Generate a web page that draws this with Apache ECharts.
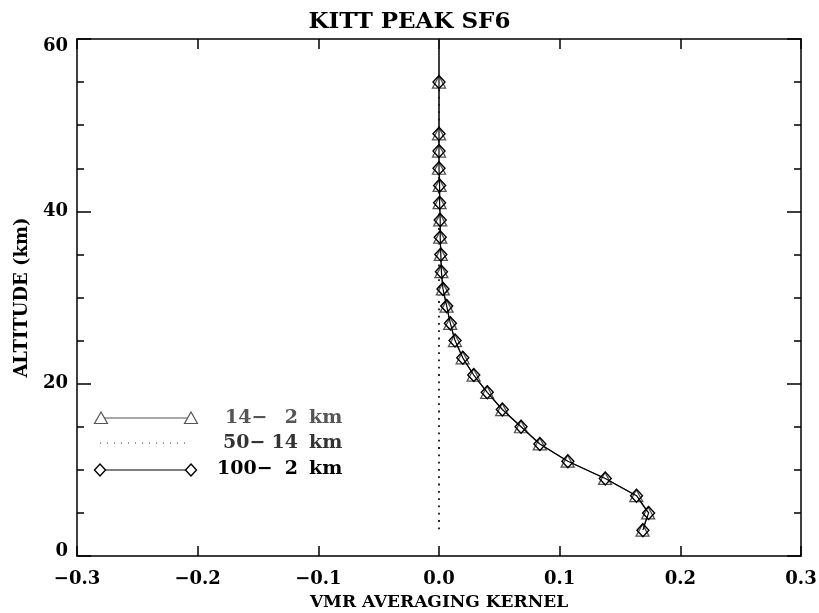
<!DOCTYPE html>
<html>
<head>
<meta charset="utf-8">
<script src="https://cdn.jsdelivr.net/npm/echarts@6/dist/echarts.min.js"></script>
<style>
  html, body { margin: 0; padding: 0; background: #fff; }
  #main { width: 819px; height: 613px; }
</style>
</head>
<body>
<div id="main"></div>
<script>
// altitude levels (km), top level sits above the plot and is clipped
var altitudes = [80, 55, 49, 47, 45, 43, 41, 39, 37, 35, 33, 31, 29, 27, 25, 23, 21, 19, 17, 15, 13, 11, 9, 7, 5, 3];
// 100- 2 km kernel (diamonds)
var kernel100 = [0, 0, 0, 0, 0, 0.0005, 0.0005, 0.001, 0.001, 0.0015, 0.002, 0.0033, 0.0064, 0.0094, 0.0133, 0.0197, 0.0288, 0.040, 0.0525, 0.068, 0.0836, 0.1068, 0.1378, 0.1637, 0.1737, 0.169];
// 14- 2 km kernel (triangles)
var kernel14 = [0, 0, 0, 0, 0, 0.0005, 0.0005, 0.001, 0.001, 0.0015, 0.002, 0.0032, 0.0063, 0.0093, 0.0132, 0.0196, 0.0287, 0.0399, 0.0524, 0.0679, 0.0835, 0.1066, 0.1376, 0.1635, 0.1733, 0.1687];
// 50- 14 km kernel (dotted)
var kernel50 = [0, 0, 0, 0, 0, 0, 0, 0, 0, 0, 0, 0, 0, 0, 0, 0, 0, 0, 0, 0, 0, 0, 0, 0, 0, 0];

var xTicks = [-0.3, -0.2, -0.1, 0.0, 0.1, 0.2, 0.3];
var yTicks = [0, 20, 40, 60];
var legendTop = ['14\u2212', '50\u2212', '100\u2212'];
var legendBottom = ['2', '14', '2'];
var legendNames = ['14-  2 km', '50- 14 km', '100-  2 km'];

function pairs(xs) {
  return xs.map(function (v, i) { return [v, altitudes[i]]; });
}

var FONT = 'DejaVu Serif';
var chart = echarts.init(document.getElementById('main'), null, { renderer: 'canvas' });

function xAxisBase(pos, showLabel) {
  return {
    type: 'value', position: pos, min: -0.3, max: 0.3, interval: 0.1,
    axisLine: { show: true, onZero: false, lineStyle: { color: '#000', width: 1.5 } },
    axisTick: { show: true, inside: true, length: 10, lineStyle: { color: '#000', width: 1.5 } },
    splitLine: { show: false },
    axisLabel: {
      show: showLabel, margin: 14, color: '#000', fontFamily: FONT, fontWeight: 'bold', fontSize: 18,
      formatter: function (v) {
        var t = xTicks.reduce(function (a, b) { return Math.abs(b - v) < Math.abs(a - v) ? b : a; });
        return t.toFixed(1).replace('-', '\u2212');
      }
    }
  };
}
var yLabelStyle = { color: '#000', fontFamily: FONT, fontWeight: 'bold', fontSize: 18 };
function yAxisBase(pos, showLabel) {
  return {
    type: 'value', position: pos, min: 0, max: 60, interval: 20,
    axisLine: { show: true, onZero: false, lineStyle: { color: '#000', width: 1.5 } },
    axisTick: { show: true, inside: true, length: 14, lineStyle: { color: '#000', width: 1.5 } },
    minorTick: { show: true, splitNumber: 4, length: 7, lineStyle: { color: '#000', width: 1.5 } },
    splitLine: { show: false },
    minorSplitLine: { show: false },
    axisLabel: {
      show: showLabel, margin: 9, color: '#000', fontFamily: FONT, fontWeight: 'bold', fontSize: 18,
      formatter: function (v) {
        if (v === yTicks[yTicks.length - 1]) return '{hi|' + v + '}';
        if (v === yTicks[0]) return '{lo|' + v + '}';
        return String(v);
      },
      rich: {
        hi: Object.assign({ padding: [15, 0, 0, 0] }, yLabelStyle),
        lo: Object.assign({ padding: [0, 0, 9, 0] }, yLabelStyle)
      }
    }
  };
}

var xb = xAxisBase('bottom', true);
xb.name = 'VMR AVERAGING KERNEL';
xb.nameLocation = 'middle';
xb.nameGap = 38;
xb.nameTextStyle = { color: '#000', fontFamily: FONT, fontWeight: 'bold', fontSize: 17 };
var xt = xAxisBase('top', false);
var yl = yAxisBase('left', true);
yl.name = 'ALTITUDE (km)';
yl.nameLocation = 'middle';
yl.nameGap = 46;
yl.nameTextStyle = { color: '#000', fontFamily: FONT, fontWeight: 'bold', fontSize: 18 };
var yr = yAxisBase('right', false);

// legend glyphs
function tri(cx, cy, c) {
  return { type: 'polygon', shape: { points: [[cx, cy - 6], [cx - 6.5, cy + 5.5], [cx + 6.5, cy + 5.5]] },
    style: { fill: '#fff', stroke: c, lineWidth: 1.2 }, z: 10 };
}
function dia(cx, cy, c) {
  return { type: 'polygon', shape: { points: [[cx, cy - 6], [cx + 5.5, cy], [cx, cy + 6], [cx - 5.5, cy]] },
    style: { fill: '#fff', stroke: c, lineWidth: 1.4 }, z: 10 };
}
function txt(x, y, s, c, align) {
  return { type: 'text', x: x, y: y, z: 10,
    style: { text: s, fill: c, font: 'bold 19px "' + FONT + '"', textAlign: align || 'left', textVerticalAlign: 'middle' } };
}
function legendRow(i, y, c) {
  var startX = [225, 223, 217];
  return [txt(startX[i], y, legendTop[i], c), txt(298, y, legendBottom[i], c, 'right'), txt(309, y, 'km', c)];
}

chart.setOption({
  animation: false,
  backgroundColor: '#fff',
  title: {
    text: 'KITT PEAK SF6', left: 'center', top: 6,
    textStyle: { color: '#000', fontFamily: FONT, fontWeight: 'bold', fontSize: 23 }
  },
  grid: { left: 77, right: 18, top: 39, bottom: 57, outerBoundsMode: 'none', containLabel: false },
  xAxis: [xb, xt],
  yAxis: [yl, yr],
  graphic: [
    { type: 'line', shape: { x1: 101, y1: 418, x2: 191, y2: 418 }, style: { stroke: '#555', lineWidth: 1.2 }, z: 9 },
    tri(101, 418, '#555'), tri(191, 418, '#555'),
    { type: 'line', shape: { x1: 100, y1: 443, x2: 188, y2: 443 }, style: { stroke: '#333', lineWidth: 1.2, lineDash: [1, 6] }, z: 9 },
    { type: 'line', shape: { x1: 100, y1: 470, x2: 191, y2: 470 }, style: { stroke: '#000', lineWidth: 1.2 }, z: 9 },
    dia(100, 470, '#000'), dia(191, 470, '#000')
  ].concat(legendRow(0, 418, '#555'), legendRow(1, 443, '#333'), legendRow(2, 469, '#000')),
  series: [
    {
      name: legendNames[1], type: 'line', data: pairs(kernel50).slice(1),
      showSymbol: false, symbol: 'none', clip: true,
      lineStyle: { color: '#111', width: 1.8, type: [1.8, 5.5] }, z: 1
    },
    {
      name: legendNames[0], type: 'line', data: pairs(kernel14),
      symbol: 'triangle', symbolSize: [13, 12], clip: true,
      lineStyle: { color: '#555', width: 1.2 },
      itemStyle: { color: '#fff', borderColor: '#555', borderWidth: 1.3 }, z: 2
    },
    {
      name: legendNames[2], type: 'line', data: pairs(kernel100),
      symbol: 'diamond', symbolSize: [12, 13], clip: true,
      lineStyle: { color: '#000', width: 1.2 },
      itemStyle: { color: 'rgba(255,255,255,0)', borderColor: '#000', borderWidth: 1.4 }, z: 3
    }
  ]
});
</script>
</body>
</html>
